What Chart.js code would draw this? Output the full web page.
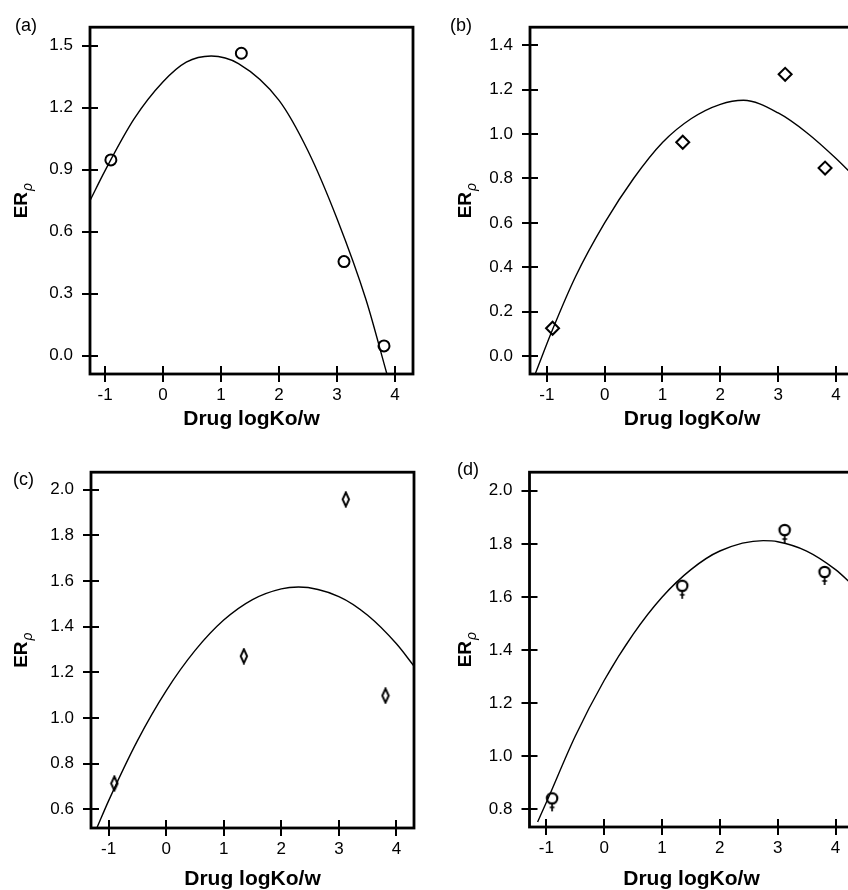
<!DOCTYPE html>
<html lang="en">
<head>
  <meta charset="UTF-8">
  <title>ERp vs Drug logKo/w</title>
  <script src="https://cdn.jsdelivr.net/npm/chart.js"></script>
  <style>
    html, body { margin: 0; padding: 0; background: #fff; }
    #wrap { position: relative; width: 848px; height: 890px; overflow: hidden; background: #fff; }
    .panel { position: absolute; width: 440px; height: 445px; }
    .panel canvas { display: block; }
  </style>
</head>
<body>
  <div id="wrap">
    <div class="panel" style="left:0;top:0"><canvas id="chartA" width="440" height="445"></canvas></div>
    <div class="panel" style="left:440px;top:0"><canvas id="chartB" width="440" height="445"></canvas></div>
    <div class="panel" style="left:0;top:445px"><canvas id="chartC" width="440" height="445"></canvas></div>
    <div class="panel" style="left:440px;top:445px"><canvas id="chartD" width="440" height="445"></canvas></div>
  </div>

  <script>
    // drug lipophilicity (x) of the four drugs
    const logKow = [-0.9, 1.35, 3.12, 3.81];

    // measured ERp per panel
    const erpA = [0.947, 1.463, 0.455, 0.047];
    const erpB = [0.126, 0.963, 1.269, 0.847];
    const erpC = [0.713, 1.271, 1.958, 1.098];
    const erpD = [0.841, 1.642, 1.852, 1.694];

    // fitted curves
    const fitXA = [-1.26, -1, -0.5, 0, 0.4, 0.83, 1.3, 2, 2.5, 3, 3.5, 3.86];
    const fitYA = [0.75, 0.895, 1.145, 1.325, 1.42, 1.45, 1.413, 1.235, 0.99, 0.662, 0.27, -0.089];
    const fitXB = [-1.2, -0.9, -0.5, 0, 0.5, 1, 1.5, 2, 2.4, 3, 3.5, 4, 4.31];
    const fitYB = [-0.08, 0.12, 0.36, 0.6, 0.8, 0.962, 1.07, 1.134, 1.152, 1.095, 1.005, 0.89, 0.81];
    const fitXC = [-1.2, -1, -0.5, 0, 0.5, 1, 1.5, 2, 2.3, 3, 3.5, 4, 4.3];
    const fitYC = [0.52, 0.637, 0.9, 1.119, 1.295, 1.429, 1.519, 1.566, 1.574, 1.532, 1.45, 1.325, 1.229];
    const fitXD = [-1.15, -1, -0.5, 0, 0.5, 1, 1.5, 2, 2.75, 3, 3.5, 4, 4.31];
    const fitYD = [0.752, 0.825, 1.075, 1.285, 1.459, 1.599, 1.703, 1.773, 1.812, 1.808, 1.773, 1.703, 1.642];

    // tick labels
    const xTicks = [-1, 0, 1, 2, 3, 4];
    const yTicksA = [0, 0.3, 0.6, 0.9, 1.2, 1.5];
    const yTicksB = [0, 0.2, 0.4, 0.6, 0.8, 1.0, 1.2, 1.4];
    const yTicksC = [0.6, 0.8, 1.0, 1.2, 1.4, 1.6, 1.8, 2.0];
    const yTicksD = [0.8, 1.0, 1.2, 1.4, 1.6, 1.8, 2.0];

    const FONT = "'Liberation Sans', Arial, sans-serif";

    // thin diamond marker for panel (c)
    function thinDiamond() {
      const c = document.createElement('canvas');
      c.width = 10; c.height = 17;
      const g = c.getContext('2d');
      g.strokeStyle = '#000';
      g.lineWidth = 1.9;
      g.beginPath();
      g.moveTo(5, 1.5); g.lineTo(8.2, 8.5); g.lineTo(5, 15.5); g.lineTo(1.8, 8.5); g.closePath();
      g.stroke();
      return c;
    }

    // female-sign marker for panel (d), circle centred on the point
    function femaleSign() {
      const c = document.createElement('canvas');
      c.width = 16; c.height = 30;
      const g = c.getContext('2d');
      g.strokeStyle = '#000';
      g.lineWidth = 2.2;
      g.beginPath(); g.arc(8, 15, 5.2, 0, Math.PI * 2); g.stroke();
      g.lineWidth = 1.7;
      g.beginPath();
      g.moveTo(8, 20.2); g.lineTo(8, 28);
      g.moveTo(5.6, 24); g.lineTo(10.4, 24);
      g.stroke();
      return c;
    }

    // frame, crossing ticks, y label with subscript and panel letter
    const frameTicks = {
      id: 'frameTicks',
      afterDraw(chart, args, o) {
        const { ctx, chartArea: a, scales: { x, y } } = chart;
        ctx.save();
        ctx.strokeStyle = '#000';
        ctx.lineWidth = 2;
        ctx.beginPath();
        x.ticks.forEach(t => {
          const px = Math.round(x.getPixelForValue(t.value));
          ctx.moveTo(px, a.bottom - 8); ctx.lineTo(px, a.bottom + 8);
        });
        y.ticks.forEach(t => {
          const py = Math.round(y.getPixelForValue(t.value));
          ctx.moveTo(a.left - 8, py); ctx.lineTo(a.left + 8, py);
        });
        ctx.stroke();
        ctx.lineWidth = 2.8;
        ctx.strokeRect(a.left, a.top, a.right - a.left, a.bottom - a.top);

        ctx.fillStyle = '#000';
        // ERρ, rotated
        ctx.translate(o.labelX, (a.top + a.bottom) / 2);
        ctx.rotate(-Math.PI / 2);
        ctx.textBaseline = 'alphabetic';
        ctx.textAlign = 'left';
        ctx.font = 'bold 19px ' + FONT;
        const wER = ctx.measureText('ER').width;
        ctx.font = 'italic 14px ' + FONT;
        const wRho = ctx.measureText('ρ').width;
        const x0 = -(wER + wRho + 1) / 2;
        ctx.font = 'bold 19px ' + FONT;
        ctx.fillText('ER', x0, 0);
        ctx.font = 'italic 14px ' + FONT;
        ctx.fillText('ρ', x0 + wER + 1, 5);
        ctx.setTransform(1, 0, 0, 1, 0, 0);

        ctx.font = '18px ' + FONT;
        ctx.textBaseline = 'middle';
        ctx.fillText(o.letter, o.letterX, o.letterY);
        ctx.restore();
      }
    };

    function makePanel(id, p) {
      const H = 445, W = 440;
      const fitData = p.fitX.map((v, i) => ({ x: v, y: p.fitY[i] }));
      const ptData = logKow.map((v, i) => ({ x: v, y: p.erp[i] }));
      new Chart(document.getElementById(id), {
        type: 'line',
        data: {
          datasets: [
            {
              data: fitData,
              borderColor: '#000',
              borderWidth: 1.4,
              pointRadius: 0,
              cubicInterpolationMode: 'monotone',
              fill: false
            },
            {
              data: ptData,
              showLine: false,
              pointStyle: p.marker,
              pointRadius: p.radius,
              pointBorderWidth: 2,
              pointBorderColor: '#000',
              pointBackgroundColor: 'rgba(0,0,0,0)'
            }
          ]
        },
        options: {
          responsive: false,
          animation: false,
          layout: {
            autoPadding: false,
            padding: { left: 0, top: p.area.t, right: W - p.area.r, bottom: 0 }
          },
          scales: {
            x: {
              type: 'linear',
              min: p.xMin, max: p.xMax,
              grid: { display: false, drawTicks: false },
              border: { display: false },
              afterBuildTicks: s => { s.ticks = xTicks.map(v => ({ value: v })); },
              afterFit: s => { s.height = H - p.area.b; },
              ticks: {
                color: '#000',
                padding: 11,
                font: { family: FONT, size: 17 },
                callback: v => String(v)
              },
              title: {
                display: true,
                text: 'Drug logKo/w',
                color: '#000',
                font: { family: FONT, size: 21, weight: 'bold', lineHeight: 1 },
                padding: { top: 0, bottom: p.titlePad }
              }
            },
            y: {
              type: 'linear',
              min: p.yMin, max: p.yMax,
              grid: { display: false, drawTicks: false },
              border: { display: false },
              afterBuildTicks: s => { s.ticks = p.yTicks.map(v => ({ value: v })); },
              afterFit: s => { s.width = p.area.l; },
              ticks: {
                color: '#000',
                padding: 17,
                font: { family: FONT, size: 17 },
                callback: v => v.toFixed(1)
              }
            }
          },
          plugins: {
            legend: { display: false },
            tooltip: { enabled: false },
            frameTicks: p.deco
          }
        },
        plugins: [frameTicks]
      });
    }

    makePanel('chartA', {
      fitX: fitXA, fitY: fitYA, erp: erpA, yTicks: yTicksA,
      xMin: -1.26, xMax: 4.31, yMin: -0.089, yMax: 1.589,
      area: { l: 90, t: 15, r: 413, b: 374 }, titlePad: 15,
      marker: 'circle', radius: 5.5,
      deco: { letter: '(a)', letterX: 15, letterY: 26, labelX: 26.5 }
    });
    makePanel('chartB', {
      fitX: fitXB, fitY: fitYB, erp: erpB, yTicks: yTicksB,
      xMin: -1.29, xMax: 4.31, yMin: -0.08, yMax: 1.481,
      area: { l: 90, t: 16, r: 414, b: 374 }, titlePad: 15,
      marker: 'rectRot', radius: 6.5,
      deco: { letter: '(b)', letterX: 10, letterY: 26, labelX: 31 }
    });
    makePanel('chartC', {
      fitX: fitXC, fitY: fitYC, erp: erpC, yTicks: yTicksC,
      xMin: -1.305, xMax: 4.305, yMin: 0.518, yMax: 2.077,
      area: { l: 91, t: 23, r: 414, b: 383 }, titlePad: 0,
      marker: thinDiamond(), radius: 6,
      deco: { letter: '(c)', letterX: 13, letterY: 35, labelX: 26.5 }
    });
    makePanel('chartD', {
      fitX: fitXD, fitY: fitYD, erp: erpD, yTicks: yTicksD,
      xMin: -1.29, xMax: 4.31, yMin: 0.733, yMax: 2.07,
      area: { l: 89.5, t: 21, r: 413.5, b: 382 }, titlePad: 0,
      marker: femaleSign(), radius: 6,
      deco: { letter: '(d)', letterX: 17, letterY: 25, labelX: 31 }
    });
  </script>
</body>
</html>
